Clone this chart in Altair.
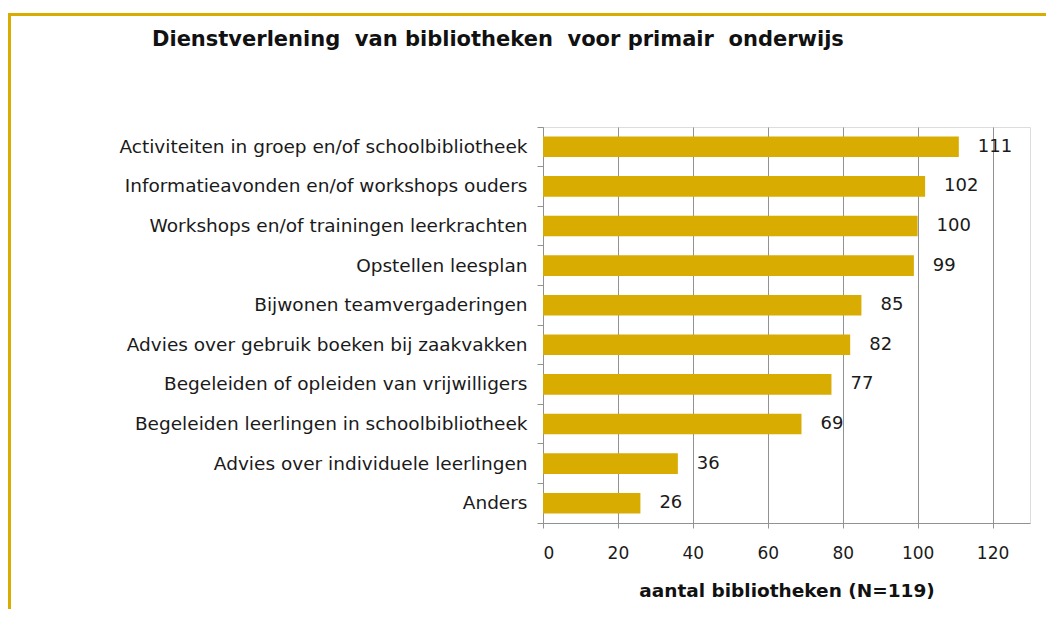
import altair as alt
import pandas as pd

categories = [
    "Activiteiten in groep en/of schoolbibliotheek",
    "Informatieavonden en/of workshops ouders",
    "Workshops en/of trainingen leerkrachten",
    "Opstellen leesplan",
    "Bijwonen teamvergaderingen",
    "Advies over gebruik boeken bij zaakvakken",
    "Begeleiden of opleiden van vrijwilligers",
    "Begeleiden leerlingen in schoolbibliotheek",
    "Advies over individuele leerlingen",
    "Anders",
]
values = [111, 102, 100, 99, 85, 82, 77, 69, 36, 26]
x_ticks = [0, 20, 40, 60, 80, 100, 120]
chart_title = "Dienstverlening\u00a0 van bibliotheken\u00a0 voor primair\u00a0 onderwijs"
x_title = "aantal bibliotheken (N=119)"

GOLD = "#D8AC00"
GRID = "#929292"
TEXT = "#1a1a1a"
FONT = "DejaVu Sans"
W, H = 487, 396

df = pd.DataFrame({"cat": categories, "val": values})

yenc = alt.Y(
    "cat:N",
    sort=None,
    scale=alt.Scale(paddingInner=0, paddingOuter=0),
    axis=alt.Axis(
        title=None,
        bandPosition=1,
        tickExtra=True,
        tickSize=6,
        tickColor=GRID,
        domainColor=GRID,
        labelPadding=10,
        labelFont=FONT,
        labelFontSize=18.5,
        labelColor=TEXT,
        labelLimit=0,
    ),
)
xenc = alt.X(
    "val:Q",
    scale=alt.Scale(domain=[0, 130], nice=False),
    axis=alt.Axis(
        values=x_ticks,
        title=x_title,
        titleFont=FONT,
        titleFontSize=18.5,
        titleFontWeight="bold",
        titleColor="#111111",
        titlePadding=20,
        grid=True,
        gridColor=GRID,
        tickColor=GRID,
        domainColor=GRID,
        tickSize=5,
        labelPadding=17,
        labelFont=FONT,
        labelFontSize=17,
        labelColor=TEXT,
    ),
)

base = alt.Chart(df)
bars = base.mark_bar(color=GOLD, height={"band": 0.52}).encode(x=xenc, y=yenc)
labels = base.mark_text(
    align="left", baseline="middle", dx=19, font=FONT, fontSize=18, color=TEXT
).encode(x="val:Q", y=alt.Y("cat:N", sort=None), text="val:Q")

one = pd.DataFrame({"k": [0]})
title_mark = alt.Chart(one).mark_text(
    text=chart_title,
    align="left",
    baseline="alphabetic",
    font=FONT,
    fontSize=21,
    fontWeight="bold",
    color="#111111",
).encode(x=alt.value(-391), y=alt.value(-81))
top_border = alt.Chart(one).mark_rule(color=GOLD, strokeWidth=3).encode(
    x=alt.value(-535), x2=alt.value(520), y=alt.value(-112.5)
)
left_border = alt.Chart(one).mark_rule(color=GOLD, strokeWidth=3).encode(
    x=alt.value(-533.5), y=alt.value(-114), y2=alt.value(500)
)

chart = (
    alt.layer(bars, labels, title_mark, top_border, left_border)
    .properties(
        width=W,
        height=H,
        autosize=alt.AutoSizeParams(type="none"),
        padding={"left": 535, "top": 119, "right": 16, "bottom": 86},
    )
    .configure_view(stroke=None)
    .configure(background="white")
)

chart.save("out.html", embed_options={"renderer": "svg", "actions": False})
